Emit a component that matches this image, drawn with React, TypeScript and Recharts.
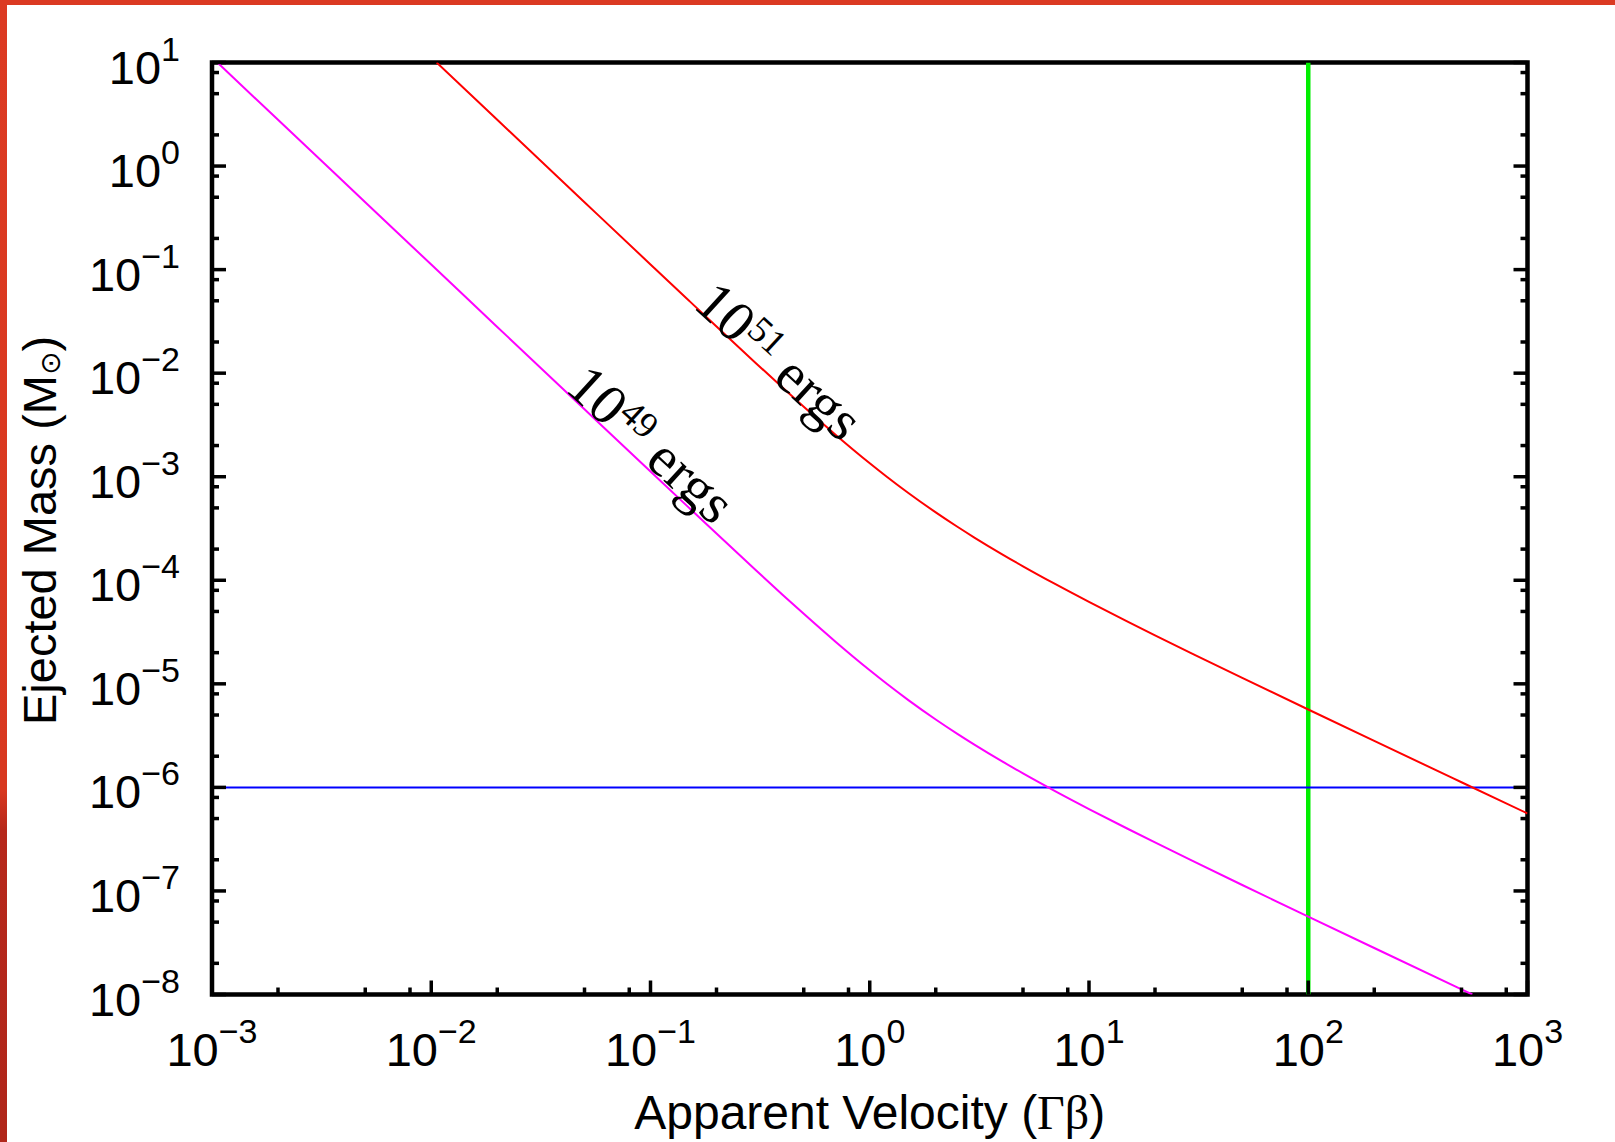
import React from 'react';
import {
  LineChart,
  Line,
  XAxis,
  YAxis,
  ReferenceLine,
  ReferenceDot,
  ReferenceArea,
} from 'recharts';

// ---------- data ----------
// apparent velocity (Gamma*beta) samples and ejected mass (solar masses)
const velocity49 = [0.001058, 0.002, 0.005, 0.01, 0.02, 0.05, 0.1, 0.15, 0.2, 0.3, 0.4, 0.5, 0.7, 1, 1.2, 1.5, 2, 2.5, 3, 4, 5, 7, 10, 15, 20, 30, 50, 100, 200, 500, 560.4];
const mass49 = [10, 2.797, 0.4475, 0.11188, 0.02797, 4.478e-3, 1.1216e-3, 5.0003e-4, 2.8247e-4, 1.2705e-4, 7.262e-5, 4.739e-5, 2.535e-5, 1.3505e-5, 9.953e-6, 6.968e-6, 4.526e-6, 3.305e-6, 2.587e-6, 1.7912e-6, 1.3647e-6, 9.214e-7, 6.181e-7, 3.986e-7, 2.94e-7, 1.9279e-7, 1.1414e-7, 5.65e-8, 2.811e-8, 1.121e-8, 1e-8];

const velocity51 = [0.01058, 0.02, 0.05, 0.1, 0.15, 0.2, 0.3, 0.4, 0.5, 0.7, 1, 1.2, 1.5, 2, 2.5, 3, 4, 5, 7, 10, 15, 20, 30, 50, 100, 200, 500, 1000];
const mass51 = [10, 2.797, 0.4478, 0.11216, 0.050003, 0.028247, 0.012705, 7.262e-3, 4.739e-3, 2.535e-3, 1.3505e-3, 9.953e-4, 6.968e-4, 4.526e-4, 3.305e-4, 2.587e-4, 1.7912e-4, 1.3647e-4, 9.214e-5, 6.181e-5, 3.986e-5, 2.94e-5, 1.9279e-5, 1.1414e-5, 5.65e-6, 2.811e-6, 1.121e-6, 5.599e-7];

const massLimit = 1e-6; // horizontal blue line
const velocityLimit = 100; // vertical green line

const xExponents = [-3, -2, -1, 0, 1, 2, 3];
const yExponents = [-8, -7, -6, -5, -4, -3, -2, -1, 0, 1];
const minorMultipliers = [2, 5, 8];

const curveLabels = [
  { u: 0.0403, m: 6.9e-3, base: '10', sup: '49', rest: ' ergs' },
  { u: 0.1545, m: 0.044, base: '10', sup: '51', rest: ' ergs' },
];

const xTitle = 'Apparent Velocity (';
const xTitleGreek = 'Γβ';
const yTitle = 'Ejected Mass (M';
const ySun = '⊙';

// ---------- derived tables ----------
const curve49 = velocity49.map((u, i) => ({ u, m: mass49[i] }));
const curve51 = velocity51.map((u, i) => ({ u, m: mass51[i] }));

function decadeTicks(exps: number[]) {
  const out: number[] = [];
  exps.forEach((e, i) => {
    out.push(Number(`1e${e}`));
    if (i < exps.length - 1) minorMultipliers.forEach((mm) => out.push(Number(`${mm}e${e}`)));
  });
  return out;
}
const xTicks = decadeTicks(xExponents);
const yTicks = decadeTicks(yExponents);
const xDomain = [Number(`1e${xExponents[0]}`), Number(`1e${xExponents[xExponents.length - 1]}`)];
const yDomain = [Number(`1e${yExponents[0]}`), Number(`1e${yExponents[yExponents.length - 1]}`)];

// ---------- styling ----------
const W = 1615;
const H = 1142;
const SANS = '"Liberation Sans", Arial, Helvetica, sans-serif';
const SERIF = '"Liberation Serif", "Times New Roman", Times, serif';
const MAJOR = 14;
const MINOR = 7;
const TICK_W = 3.5;

const isMajor = (v: number) => {
  const l = Math.log10(v);
  return Math.abs(l - Math.round(l)) < 1e-6;
};

function PowerLabel({ x, y, exp, anchor }: any) {
  const s = exp < 0 ? `\u2212${-exp}` : `${exp}`;
  return (
    <text x={x} y={y} textAnchor={anchor} fontFamily={SANS} fill="#000">
      <tspan fontSize={47}>10</tspan>
      <tspan fontSize={34} dy={-23}>{s}</tspan>
    </text>
  );
}

const BottomTick = (props: any) => {
  const { x, y, payload } = props;
  const v = payload.value;
  const major = isMajor(v);
  return (
    <g>
      <line x1={x} y1={y} x2={x} y2={y - (major ? MAJOR : MINOR)} stroke="#000" strokeWidth={TICK_W} />
      {major && <PowerLabel x={x} y={y + 71} exp={Math.round(Math.log10(v))} anchor="middle" />}
    </g>
  );
};

const TopTick = (props: any) => {
  const { x, y, payload } = props;
  const major = isMajor(payload.value);
  return (
    <g>
      <line x1={x} y1={y} x2={x} y2={y + (major ? MAJOR : MINOR)} stroke="#000" strokeWidth={TICK_W} />
    </g>
  );
};

const LeftTick = (props: any) => {
  const { x, y, payload } = props;
  const v = payload.value;
  const major = isMajor(v);
  return (
    <g>
      <line x1={x} y1={y} x2={x + (major ? MAJOR : MINOR)} y2={y} stroke="#000" strokeWidth={TICK_W} />
      {major && <PowerLabel x={x - 32} y={y + 21} exp={Math.round(Math.log10(v))} anchor="end" />}
    </g>
  );
};

const RightTick = (props: any) => {
  const { x, y, payload } = props;
  const major = isMajor(payload.value);
  return (
    <g>
      <line x1={x} y1={y} x2={x - (major ? MAJOR : MINOR)} y2={y} stroke="#000" strokeWidth={TICK_W} />
    </g>
  );
};

const XTitle = (props: any) => {
  const vb = props.viewBox || { x: 212, y: 994.5, width: 1315.5, height: 147.5 };
  return (
    <text x={vb.x + vb.width / 2} y={vb.y + 134.5} textAnchor="middle" fontFamily={SANS} fontSize={48} fill="#000">
      <tspan>{xTitle}</tspan>
      <tspan fontFamily={SERIF}>{xTitleGreek}</tspan>
      <tspan>)</tspan>
    </text>
  );
};

const YTitle = (props: any) => {
  const vb = props.viewBox || { x: 0, y: 62.5, width: 212, height: 932 };
  const cx = 56;
  const cy = vb.y + vb.height / 2 + 2;
  return (
    <text
      x={cx}
      y={cy}
      transform={`rotate(-90 ${cx} ${cy})`}
      textAnchor="middle"
      fontFamily={SANS}
      fontSize={47}
      fill="#000"
    >
      <tspan>{yTitle}</tspan>
      <tspan fontFamily='"DejaVu Sans", sans-serif' fontSize={28} dy={4}>{ySun}</tspan>
      <tspan dy={-4}>)</tspan>
    </text>
  );
};

const makeCurveLabel = (lab: any) => (props: any) => {
  const { cx, cy } = props;
  if (cx == null || cy == null) return <g />;
  return (
    <text
      x={cx}
      y={cy}
      transform={`rotate(42.5 ${cx} ${cy})`}
      fontFamily={SERIF}
      fontSize={57}
      fill="#000"
    >
      <tspan>{lab.base}</tspan>
      <tspan fontSize={37} dy={-17}>{lab.sup}</tspan>
      <tspan dy={17}>{lab.rest}</tspan>
    </text>
  );
};

export default function App() {
  return (
    <div style={{ position: 'relative', width: W, height: H, background: '#fff', overflow: 'hidden' }}>
      <style>{`html,body{margin:0;padding:0;overflow:hidden;background:#fff}`}</style>
      <LineChart width={W} height={H} margin={{ top: 62.5, right: 87.5, bottom: 0, left: 0 }}>
        <XAxis
          xAxisId={0}
          dataKey="u"
          type="number"
          scale="log"
          domain={xDomain}
          allowDataOverflow
          ticks={xTicks}
          interval={0}
          tickSize={0}
          tickMargin={0}
          tickLine={false}
          axisLine={false}
          height={147.5}
          tick={BottomTick}
          label={XTitle}
        />
        <XAxis
          xAxisId="top"
          orientation="top"
          mirror
          type="number"
          scale="log"
          domain={xDomain}
          allowDataOverflow
          ticks={xTicks}
          interval={0}
          tickSize={0}
          tickMargin={0}
          tickLine={false}
          axisLine={false}
          height={1}
          tick={TopTick}
        />
        <YAxis
          yAxisId={0}
          type="number"
          scale="log"
          domain={yDomain}
          allowDataOverflow
          ticks={yTicks}
          interval={0}
          tickSize={0}
          tickMargin={0}
          tickLine={false}
          axisLine={false}
          width={212}
          tick={LeftTick}
          label={YTitle}
        />
        <YAxis
          yAxisId="right"
          orientation="right"
          mirror
          type="number"
          scale="log"
          domain={yDomain}
          allowDataOverflow
          ticks={yTicks}
          interval={0}
          tickSize={0}
          tickMargin={0}
          tickLine={false}
          axisLine={false}
          width={1}
          tick={RightTick}
        />
        <ReferenceLine x={velocityLimit} stroke="#00ee00" strokeWidth={4.5} ifOverflow="hidden" />
        <ReferenceLine y={massLimit} stroke="#0000ff" strokeWidth={2} ifOverflow="hidden" />
        <Line
          data={curve49}
          dataKey="m"
          type="monotone"
          stroke="#ff00ff"
          strokeWidth={2}
          dot={false}
          activeDot={false}
          isAnimationActive={false}
        />
        <Line
          data={curve51}
          dataKey="m"
          type="monotone"
          stroke="#ff0000"
          strokeWidth={2}
          dot={false}
          activeDot={false}
          isAnimationActive={false}
        />
        <ReferenceArea
          x1={xDomain[0]}
          x2={xDomain[1]}
          y1={yDomain[0]}
          y2={yDomain[1]}
          fill="none"
          fillOpacity={0}
          stroke="#000"
          strokeWidth={4.5}
          ifOverflow="visible"
        />
        {curveLabels.map((lab, i) => (
          <ReferenceDot key={i} x={lab.u} y={lab.m} r={0} ifOverflow="visible" shape={makeCurveLabel(lab)} />
        ))}
      </LineChart>
      <div style={{ position: 'absolute', left: 0, top: 0, width: W, height: 5, background: '#db3a22' }} />
      <div
        style={{
          position: 'absolute',
          left: 0,
          top: 0,
          width: 7,
          height: H,
          background: 'linear-gradient(to bottom, #dc3a22 0px, #d8381f 790px, #b6281b 830px, #b0261a 100%)',
        }}
      />
    </div>
  );
}
